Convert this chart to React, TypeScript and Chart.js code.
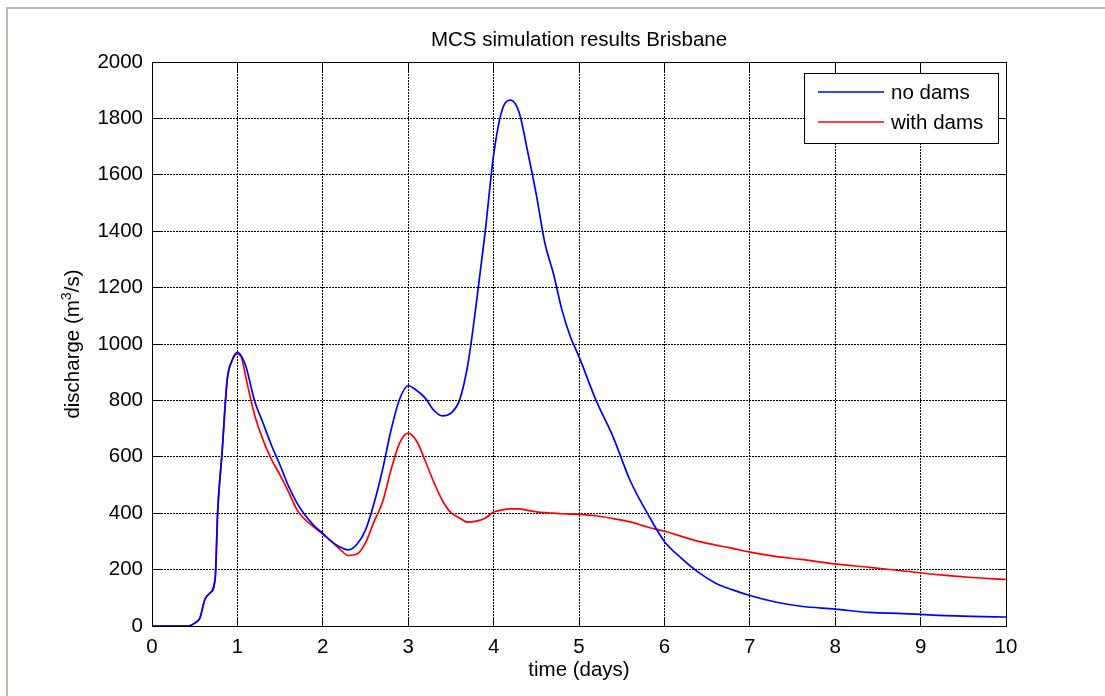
import React, { useEffect, useRef } from 'react';
import { Chart, registerables } from 'chart.js';

Chart.register(...registerables);

// Time in days
const TIME = [
  0, 0.4, 0.45, 0.5, 0.56, 0.62, 0.68, 0.74, 0.77, 0.82, 0.88, 0.94, 1.0, 1.05, 1.1,
  1.2, 1.3, 1.4, 1.5, 1.6, 1.7, 1.8, 1.9, 2.0, 2.1, 2.2, 2.3, 2.4, 2.5, 2.6, 2.7,
  2.8, 2.9, 3.0, 3.1, 3.2, 3.3, 3.4, 3.5, 3.6, 3.7, 3.8, 3.9, 4.0, 4.1, 4.2, 4.3,
  4.4, 4.5, 4.6, 4.7, 4.8, 4.9, 5.0, 5.2, 5.4, 5.6, 5.8, 6.0, 6.2, 6.4, 6.6, 6.8,
  7.0, 7.3, 7.6, 8.0, 8.4, 8.8, 9.2, 9.6, 10.0,
];

// Discharge (m3/s) without dams
const NO_DAMS = [
  0, 0, 2, 10, 28, 95, 117, 170, 411, 613, 872, 943, 970, 955, 920,
  800, 720, 640, 570, 495, 435, 390, 355, 328, 300, 280, 270, 290, 340, 435, 555,
  696, 805, 852, 835, 808, 765, 745, 755, 800, 930, 1150, 1394, 1670, 1830, 1865, 1820,
  1681, 1530, 1358, 1250, 1121, 1025, 955, 800, 670, 515, 400, 300, 240, 190, 152, 128,
  108, 85, 70, 60, 48, 44, 38, 34, 32,
];

// Discharge (m3/s) with dams
const WITH_DAMS = [
  0, 0, 2, 10, 28, 95, 117, 170, 411, 613, 872, 943, 965, 950, 880,
  750, 660, 590, 535, 475, 411, 375, 350, 326, 300, 272, 250, 255, 295, 370, 440,
  555, 649, 684, 655, 585, 510, 445, 402, 383, 368, 372, 382, 404, 412, 415, 415,
  410, 405, 402, 400, 398, 397, 396, 391, 381, 369, 351, 336, 318, 300, 287, 275,
  262, 247, 236, 220, 208, 195, 182, 172, 165,
];

const X_TICKS = [0, 1, 2, 3, 4, 5, 6, 7, 8, 9, 10];
const Y_TICKS = [0, 200, 400, 600, 800, 1000, 1200, 1400, 1600, 1800, 2000];

const SERIES_LABELS = ['no dams', 'with dams'];
const SERIES_COLORS = ['#0000ff', '#ff0000'];
const TITLE = 'MCS simulation results Brisbane';
const X_TITLE = 'time (days)';

const FONT_FAMILY = '"Liberation Sans", Arial, Helvetica, sans-serif';
const FONT_SIZE = 20.5;

const matlabPlugin = {
  id: 'matlabFrame',
  beforeDraw(chart: any) {
    const { ctx, width, height } = chart;
    ctx.save();
    ctx.fillStyle = '#ffffff';
    ctx.fillRect(0, 0, width, height);
    ctx.restore();
  },
  afterDraw(chart: any) {
    const { ctx, chartArea: a, scales } = chart;
    const xs = scales.x;
    const ys = scales.y;
    const al = (p: number) => Math.round(p - 0.5) + 0.5;
    const L = al(a.left), R = al(a.right), T = al(a.top), B = al(a.bottom);
    ctx.save();
    ctx.setLineDash([]);
    ctx.strokeStyle = '#000000';
    ctx.lineWidth = 1;
    // box
    ctx.strokeRect(L, T, R - L, B - T);
    // inward ticks
    const tl = 9;
    ctx.beginPath();
    X_TICKS.forEach((v) => {
      const px = al(xs.getPixelForValue(v));
      ctx.moveTo(px, B); ctx.lineTo(px, B - tl);
      ctx.moveTo(px, T); ctx.lineTo(px, T + tl);
    });
    Y_TICKS.forEach((v) => {
      const py = al(ys.getPixelForValue(v));
      ctx.moveTo(L, py); ctx.lineTo(L + tl, py);
      ctx.moveTo(R, py); ctx.lineTo(R - tl, py);
    });
    ctx.stroke();

    // title
    ctx.fillStyle = '#000000';
    ctx.font = `${FONT_SIZE}px ${FONT_FAMILY}`;
    ctx.textAlign = 'center';
    ctx.textBaseline = 'middle';
    ctx.fillText(TITLE, (a.left + a.right) / 2, 40);
    // x title
    ctx.fillText(X_TITLE, (a.left + a.right) / 2, 670);

    // y title with superscript
    ctx.save();
    ctx.translate(72, (a.top + a.bottom) / 2);
    ctx.rotate(-Math.PI / 2);
    const p1 = 'discharge (m';
    const sup = '3';
    const p2 = '/s)';
    ctx.font = `${FONT_SIZE}px ${FONT_FAMILY}`;
    const w1 = ctx.measureText(p1).width;
    const w3 = ctx.measureText(p2).width;
    ctx.font = `${FONT_SIZE * 0.7}px ${FONT_FAMILY}`;
    const w2 = ctx.measureText(sup).width;
    const total = w1 + w2 + w3;
    const x0 = -total / 2;
    ctx.textAlign = 'left';
    ctx.textBaseline = 'alphabetic';
    ctx.font = `${FONT_SIZE}px ${FONT_FAMILY}`;
    ctx.fillText(p1, x0, 7);
    ctx.font = `${FONT_SIZE * 0.7}px ${FONT_FAMILY}`;
    ctx.fillText(sup, x0 + w1, -1);
    ctx.font = `${FONT_SIZE}px ${FONT_FAMILY}`;
    ctx.fillText(p2, x0 + w1 + w2, 7);
    ctx.restore();

    // legend
    const lx = 804.5, ly = 73.5, lw = 194, lh = 70;
    ctx.fillStyle = '#ffffff';
    ctx.fillRect(lx, ly, lw, lh);
    ctx.strokeStyle = '#000000';
    ctx.lineWidth = 1;
    ctx.strokeRect(lx, ly, lw, lh);
    const rows = [92, 122];
    SERIES_LABELS.forEach((lab, i) => {
      ctx.strokeStyle = SERIES_COLORS[i];
      ctx.lineWidth = 1.6;
      ctx.beginPath();
      ctx.moveTo(818, rows[i]);
      ctx.lineTo(884, rows[i]);
      ctx.stroke();
      ctx.fillStyle = '#000000';
      ctx.font = `${FONT_SIZE}px ${FONT_FAMILY}`;
      ctx.textAlign = 'left';
      ctx.textBaseline = 'middle';
      ctx.fillText(lab, 891, rows[i] + 1);
    });

    // outer figure border
    ctx.strokeStyle = '#b6beac';
    ctx.lineWidth = 2;
    ctx.beginPath();
    ctx.moveTo(1105, 8);
    ctx.lineTo(7, 8);
    ctx.lineTo(7, 696);
    ctx.stroke();
    ctx.restore();
  },
};

export default function App() {
  const canvasRef = useRef<HTMLCanvasElement | null>(null);

  useEffect(() => {
    document.body.style.margin = '0';
    const canvas = canvasRef.current;
    if (!canvas) return;
    const chart = new Chart(canvas, {
      type: 'line',
      data: {
        datasets: [
          {
            label: SERIES_LABELS[0],
            data: TIME.map((t, i) => ({ x: t, y: NO_DAMS[i] })),
            borderColor: SERIES_COLORS[0],
            borderWidth: 1.7,
            pointRadius: 0,
            cubicInterpolationMode: 'monotone',
            fill: false,
          },
          {
            label: SERIES_LABELS[1],
            data: TIME.map((t, i) => ({ x: t, y: WITH_DAMS[i] })),
            borderColor: SERIES_COLORS[1],
            borderWidth: 1.7,
            pointRadius: 0,
            cubicInterpolationMode: 'monotone',
            fill: false,
          },
        ],
      },
      options: {
        responsive: false,
        animation: false,
        devicePixelRatio: 1,
        layout: { padding: { left: 0, top: 62, right: 99, bottom: 0 } },
        plugins: {
          legend: { display: false },
          title: { display: false },
          tooltip: { enabled: false },
        },
        scales: {
          x: {
            type: 'linear',
            min: 0,
            max: 10,
            afterBuildTicks: (scale: any) => {
              scale.ticks = X_TICKS.map((v) => ({ value: v }));
            },
            afterFit: (scale: any) => {
              scale.height = 70;
            },
            ticks: {
              color: '#000000',
              padding: 9,
              maxRotation: 0,
              callback: (v: any) => String(v),
              font: { family: FONT_FAMILY, size: FONT_SIZE },
            },
            grid: {
              color: '#000000',
              lineWidth: 1,
              drawTicks: false,
            },
            border: { display: false, dash: [2, 1] },
          },
          y: {
            type: 'linear',
            min: 0,
            max: 2000,
            afterBuildTicks: (scale: any) => {
              scale.ticks = Y_TICKS.map((v) => ({ value: v }));
            },
            afterFit: (scale: any) => {
              scale.width = 152;
            },
            ticks: {
              color: '#000000',
              padding: 9,
              callback: (v: any) => String(v),
              font: { family: FONT_FAMILY, size: FONT_SIZE },
            },
            grid: {
              color: '#000000',
              lineWidth: 1,
              drawTicks: false,
            },
            border: { display: false, dash: [2, 1] },
          },
        },
      },
      plugins: [matlabPlugin],
    });
    return () => chart.destroy();
  }, []);

  return (
    <div style={{ width: 1105, height: 696, position: 'relative' }}>
      <canvas ref={canvasRef} width={1105} height={696} style={{ display: 'block' }} />
    </div>
  );
}
